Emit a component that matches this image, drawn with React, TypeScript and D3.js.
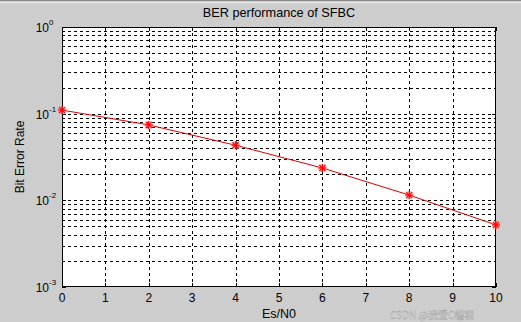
import React from "react";
import * as d3 from "d3";

const esn0 = [0, 2, 4, 6, 8, 10];
const ber = [0.11, 0.0741, 0.0432, 0.0236, 0.0115, 0.0052];
const xTicks = [0, 1, 2, 3, 4, 5, 6, 7, 8, 9, 10];
const yDecades = [0, -1, -2, -3];

const W = 521, H = 322;
const L = 62, R = 496, T = 27, B = 287;

export default function App() {
  const x = d3.scaleLinear().domain([0, 10]).range([L, R]);
  const y = d3.scaleLog().domain([1e-3, 1]).range([B, T]);
  const minor: number[] = [];
  for (let e = -3; e < 0; e++) for (let k = 2; k <= 9; k++) minor.push(k * Math.pow(10, e));
  const majorY = yDecades.map((e) => Math.pow(10, e));
  const line = d3.line<number>().x((_, i) => x(esn0[i])).y((d) => y(d));
  const font = "'Liberation Sans', Arial, sans-serif";
  const dash = "3,3";
  const star = (cx: number, cy: number, i: number) => {
    const s = 4;
    const d = 3;
    return (
      <g key={i} stroke="#ff0000" strokeWidth={1.2}>
        <circle cx={cx} cy={cy} r={4.5} fill="#ff9999" stroke="none" opacity={0.5} />
        <line x1={cx - s} y1={cy} x2={cx + s} y2={cy} />
        <line x1={cx} y1={cy - s} x2={cx} y2={cy + s} />
        <line x1={cx - d} y1={cy - d} x2={cx + d} y2={cy + d} />
        <line x1={cx - d} y1={cy + d} x2={cx + d} y2={cy - d} />
      </g>
    );
  };
  return (
    <svg width={W} height={H} style={{ position: "absolute", left: 0, top: 0 }} fontFamily={font}>
      <rect x={0} y={0} width={W} height={H} fill="#cdcdcd" />
      <line x1={0} y1={0.5} x2={W} y2={0.5} stroke="#8a8a8a" />
      <line x1={0} y1={2.5} x2={W} y2={2.5} stroke="#e8e8e8" />
      <rect x={L} y={T} width={R - L} height={B - T} fill="#ffffff" />
      {/* grid */}
      {xTicks.slice(1, -1).map((t) => (
        <line key={"gx" + t} x1={Math.round(x(t)) + 0.5} x2={Math.round(x(t)) + 0.5} y1={T} y2={B} stroke="#000" strokeDasharray={dash} />
      ))}
      {[...minor, ...majorY.slice(1, -1)].map((v, i) => (
        <line key={"gy" + i} x1={L} x2={R} y1={Math.round(y(v)) + 0.5} y2={Math.round(y(v)) + 0.5} stroke="#000" strokeDasharray={dash} />
      ))}
      {/* ticks */}
      {xTicks.map((t) => (
        <g key={"tx" + t}>
          <line x1={Math.round(x(t)) + 0.5} x2={Math.round(x(t)) + 0.5} y1={B} y2={B - 4} stroke="#000" />
          <line x1={Math.round(x(t)) + 0.5} x2={Math.round(x(t)) + 0.5} y1={T} y2={T + 4} stroke="#000" />
          <text x={x(t)} y={B + 15} fontSize={12} textAnchor="middle" fill="#000">{t}</text>
        </g>
      ))}
      {minor.map((v, i) => (
        <g key={"my" + i}>
          <line x1={L} x2={L + 2} y1={Math.round(y(v)) + 0.5} y2={Math.round(y(v)) + 0.5} stroke="#000" />
          <line x1={R} x2={R - 2} y1={Math.round(y(v)) + 0.5} y2={Math.round(y(v)) + 0.5} stroke="#000" />
        </g>
      ))}
      {yDecades.map((e) => {
        const yy = y(Math.pow(10, e));
        return (
          <g key={"ty" + e}>
            <line x1={L} x2={L + 4} y1={Math.round(yy) + 0.5} y2={Math.round(yy) + 0.5} stroke="#000" />
            <line x1={R} x2={R - 4} y1={Math.round(yy) + 0.5} y2={Math.round(yy) + 0.5} stroke="#000" />
            <text x={49} y={yy + 5} fontSize={12} textAnchor="end" fill="#000">10</text>
            <text x={49} y={yy - 2} fontSize={8} textAnchor="start" fill="#000">{e}</text>
          </g>
        );
      })}
      <rect x={L + 0.5} y={T + 0.5} width={R - L - 1} height={B - T - 1} fill="none" stroke="#000" />
      {/* data */}
      <path d={line(ber) || ""} fill="none" stroke="#dd0000" strokeWidth={1} />
      {ber.map((v, i) => star(x(esn0[i]), y(v), i))}
      {/* labels */}
      <text x={(L + R) / 2} y={17} fontSize={12.7} textAnchor="middle" fill="#000">BER performance of SFBC</text>
      <text x={(L + R) / 2} y={318} fontSize={12.5} textAnchor="middle" fill="#000">Es/N0</text>
      <text transform={`translate(24,${(T + B) / 2}) rotate(-90)`} fontSize={12} textAnchor="middle" fill="#000">Bit Error Rate</text>
      <text x={390} y={319} fontSize={10} fill="#eeeeee" stroke="#9a9a9a" strokeWidth={0.4} opacity={0.85} fontFamily="'Noto Sans CJK SC', 'Liberation Sans', sans-serif">CSDN @我爱C编程</text>
    </svg>
  );
}
